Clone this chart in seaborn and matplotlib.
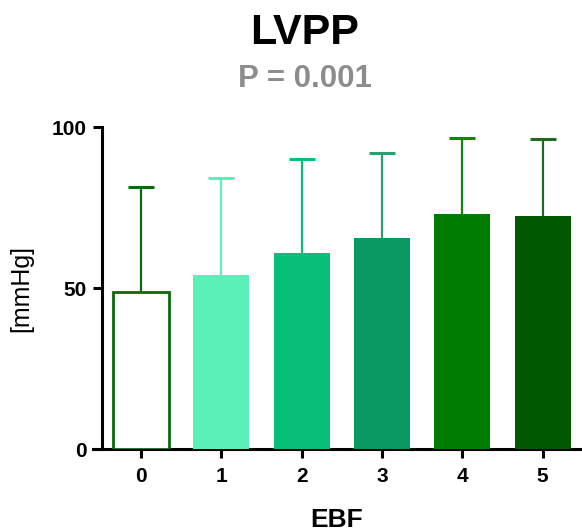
import numpy as np
import pandas as pd
import matplotlib
matplotlib.use("Agg")
import matplotlib.pyplot as plt
import seaborn as sns

# Data
categories = ["0", "1", "2", "3", "4", "5"]
means = [49.0, 54.2, 61.0, 65.6, 73.2, 72.5]
sd_upper = [32.4, 30.0, 29.3, 26.3, 23.5, 24.0]
bar_colors = ["#FFFFFF", "#5BF0B8", "#07BF79", "#0A9963", "#007C00", "#005900"]
err_colors = ["#0B6B0B", "#5BF0B8", "#07BF79", "#2AA070", "#0A8A0A", "#1E6B1E"]
title = "LVPP"
subtitle = "P = 0.001"
xlabel = "EBF"
ylabel = "[mmHg]"
yticks = [0, 50, 100]

sns.set_style("ticks")
plt.rcParams['font.family'] = ['Liberation Sans', 'DejaVu Sans']

fig = plt.figure(figsize=(5.82, 5.32), dpi=100)
ax = fig.add_axes([92.7/582, 1-449.3/532, (580-92.7)/582, (449.3-127.3)/532])

df = pd.DataFrame({"EBF": categories, "val": means})
sns.barplot(data=df, x="EBF", y="val", hue="EBF", palette=bar_colors,
            legend=False, width=0.7, errorbar=None, ax=ax, zorder=3,
            linewidth=0, saturation=1)

# first bar: outline only
for i, p in enumerate(ax.patches):
    if i == 0:
        p.set_facecolor("white")
        p.set_edgecolor("#0B6B0B")
        p.set_linewidth(2.0)

for i in range(len(categories)):
    cont = ax.errorbar(i, means[i], yerr=[[0], [sd_upper[i]]], color=err_colors[i],
                       elinewidth=1.6, capsize=9.5, capthick=2.2, zorder=2,
                       clip_on=False, fmt="none")
    caps = cont[1]
    if len(caps) == 2:
        caps[0].remove()

ax.set_xlim(-0.6, 5.464)
ax.set_ylim(0, 100)
ax.set_yticks(yticks)
ax.spines['left'].set_position(('data', -0.48))
ax.spines['left'].set_bounds(0, 100)
for s in ['top', 'right']:
    ax.spines[s].set_visible(False)
for s in ['left', 'bottom']:
    ax.spines[s].set_linewidth(2.2)
    ax.spines[s].set_color('black')
ax.tick_params(axis='both', width=2.2, length=6.5, color='black',
               labelsize=15, pad=5, labelcolor='black')
ax.tick_params(axis='x', pad=6)
for lbl in ax.get_xticklabels() + ax.get_yticklabels():
    lbl.set_fontweight('bold')

ax.set_xlabel(xlabel, fontsize=19, fontweight='bold', labelpad=16, color='black')
ax.set_ylabel(ylabel, fontsize=18, fontweight='normal', labelpad=13, color='black')

fig.text(305/582, 1-44/532, title, ha='center', va='baseline',
         fontsize=31, fontweight='bold', color='black')
fig.text(305/582, 1-87.3/532, subtitle, ha='center', va='baseline',
         fontsize=22.5, fontweight='bold', color='#8C8C8C')

fig.savefig("out.png", dpi=100)
